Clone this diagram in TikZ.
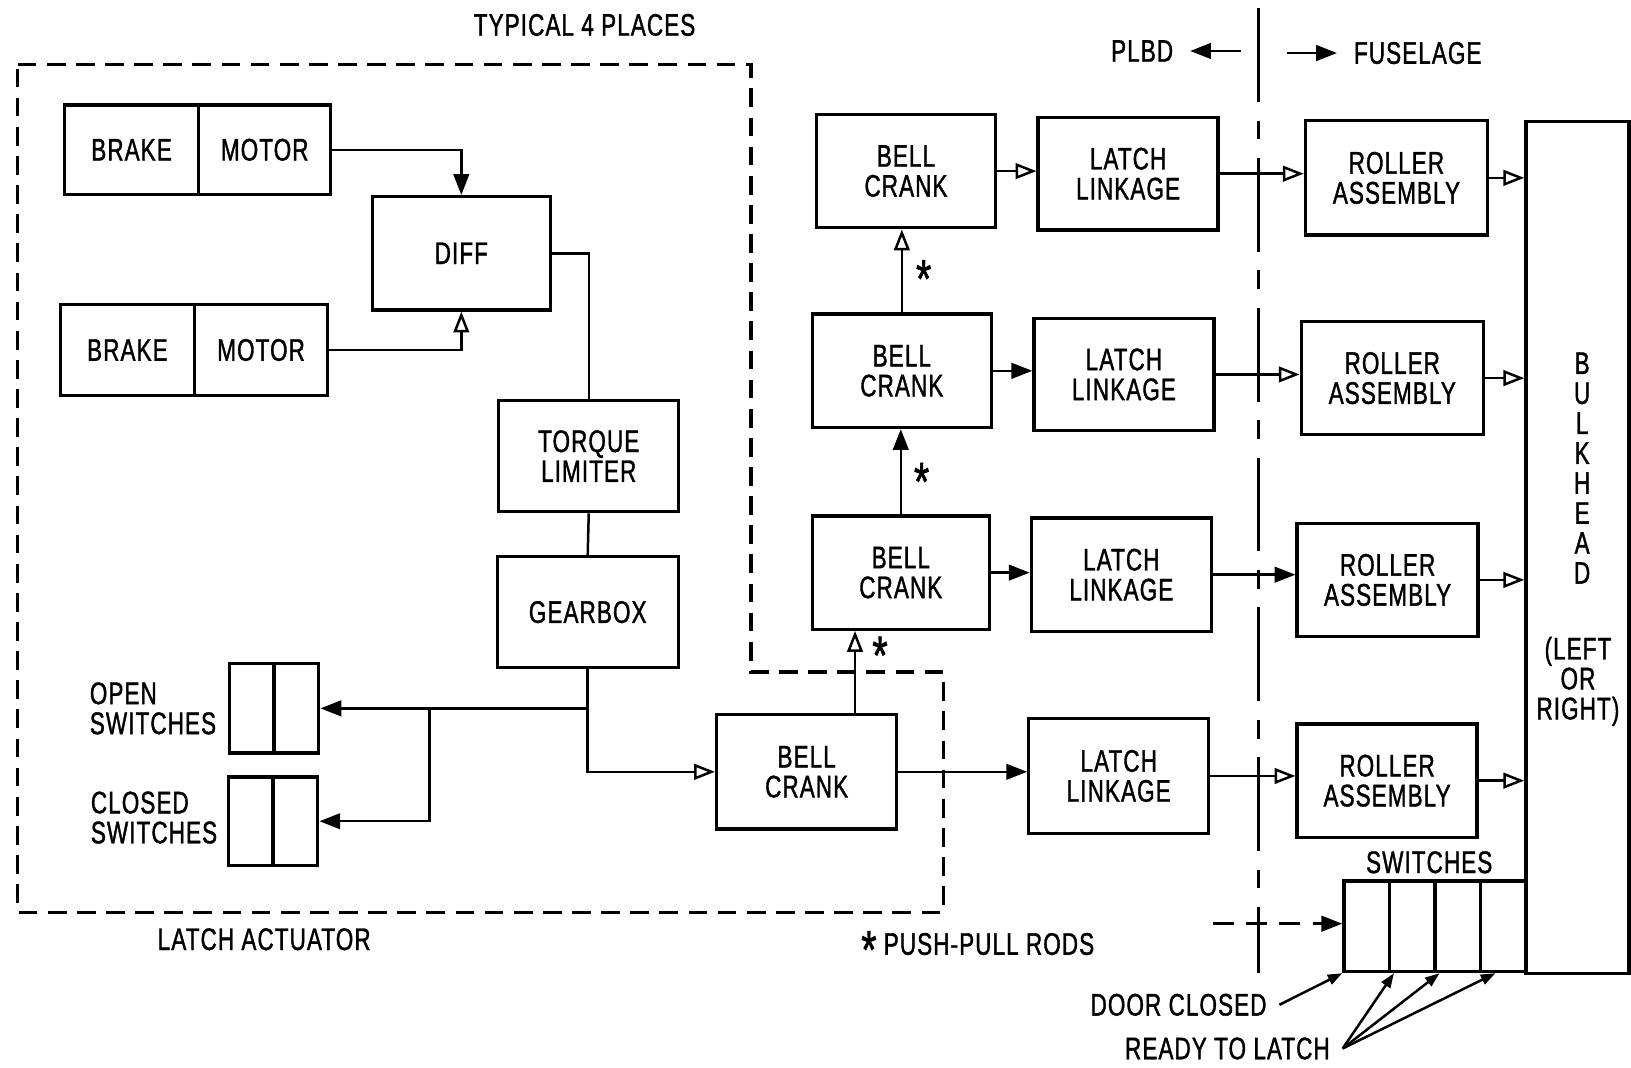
\documentclass[tikz,border=0pt]{standalone}
\usepackage{fontspec}
\setmainfont[FakeStretch=0.72,LetterSpace=3.5,FakeBold=1.2]{Liberation Sans}
\usetikzlibrary{arrows.meta}
\newcommand\lbl{\fontsize{15}{14.4}\selectfont}
\newcommand\astr{\raisebox{-6.5pt}{\fontsize{26}{26}\selectfont *}}
\begin{document}
\begin{tikzpicture}[x=0.5pt,y=-0.5pt,
  box/.style={draw,line width=1.6pt,inner sep=0pt,align=center,font=\lbl},
  ln/.style={line width=1.2pt},
  fa/.style={ln,-{Triangle[length=10pt,width=7.5pt]}},
  oa/.style={ln,-{Triangle[open,length=10pt,width=7.5pt,line width=1.2pt]}},
  sa/.style={ln,-{Triangle[length=7pt,width=5pt]}},
  txt/.style={font=\lbl,inner sep=0pt,align=center}]
\useasboundingbox (0,0) rectangle (1568,1026);

% latch actuator outline
\draw[line width=1.6pt,dash pattern=on 9pt off 5pt] (17,62) -- (722,62) -- (722,646) -- (907,646) -- (907,877) -- (17,877) -- cycle;
\node[txt] (typ) at (562,24) {TYPICAL 4 PLACES};
\node[txt] (lact) at (254,903) {LATCH ACTUATOR};

% brake / motor
\node[box,minimum width=64.5pt,minimum height=43pt] (br1) at (126.5,144) {BRAKE};
\node[box,minimum width=63.5pt,minimum height=43pt] (mo1) at (254.5,144) {MOTOR};
\node[box,minimum width=64.5pt,minimum height=43.5pt] (br2) at (122.5,336.5) {BRAKE};
\node[box,minimum width=64pt,minimum height=43.5pt] (mo2) at (251,336.5) {MOTOR};
\node[box,minimum width=85.5pt,minimum height=54.5pt] (diff) at (443.5,243.5) {DIFF};
\node[box,minimum width=86.5pt,minimum height=53.5pt] (torque) at (566,438.5) {TORQUE\\LIMITER};
\node[box,minimum width=87pt,minimum height=53.5pt] (gear) at (565,588.5) {GEARBOX};

% open / closed switches
\node[box,minimum width=21.5pt,minimum height=43pt] (os1) at (242,681) {};
\node[box,minimum width=21.5pt,minimum height=43pt] (os2) at (285,681) {};
\node[box,minimum width=21.5pt,minimum height=42.5pt] (cs1) at (241,789.5) {};
\node[box,minimum width=21.5pt,minimum height=42.5pt] (cs2) at (284,789.5) {};
\node[txt,anchor=west,align=left] (ostxt) at (86,681) {OPEN\\SWITCHES};
\node[txt,anchor=west,align=left] (cstxt) at (87,786) {CLOSED\\SWITCHES};

\draw[fa] (mo1.east) -| (diff.north);
\draw[oa] (mo2.east) -| (diff.south);
\draw[ln] (diff.east) -| (torque.north);
\draw[ln] (torque.south) -- (gear.north);
\coordinate (j1) at (gear.south |- os2.east);
\coordinate (j2) at (413,681);
\draw[fa] (j1) -- (os2.east);
\draw[fa] (j2) |- (cs2.east);

% bell cranks
\node[box,minimum width=86.5pt,minimum height=55pt] (bc4) at (775.5,742) {BELL\\CRANK};
\node[box,minimum width=85pt,minimum height=54.5pt] (bc3) at (866,550.5) {BELL\\CRANK};
\node[box,minimum width=86pt,minimum height=54.5pt] (bc2) at (867,356.5) {BELL\\CRANK};
\node[box,minimum width=86pt,minimum height=54.5pt] (bc1) at (871,164.5) {BELL\\CRANK};
\draw[oa] (gear.south) |- (bc4.west);

\draw[oa] ([xshift=23.25pt]bc4.north) -- ([xshift=23.25pt]bc4.north |- bc3.south);
\draw[fa] (bc3.north) -- (bc3.north |- bc2.south);
\draw[oa] (bc2.north) -- (bc2.north |- bc1.south);
\node[txt] (as1) at (846,630) {\astr};
\node[txt] (as2) at (886,463) {\astr};
\node[txt] (as3) at (888,268) {\astr};

% latch linkages
\node[box,minimum width=86.5pt,minimum height=54pt] (ll1) at (1084.5,167) {LATCH\\LINKAGE};
\node[box,minimum width=86.5pt,minimum height=54pt] (ll2) at (1080.5,360) {LATCH\\LINKAGE};
\node[box,minimum width=86.5pt,minimum height=54.5pt] (ll3) at (1078,552.5) {LATCH\\LINKAGE};
\node[box,minimum width=86.5pt,minimum height=55pt] (ll4) at (1075.5,746) {LATCH\\LINKAGE};

% roller assemblies
\node[box,minimum width=87.5pt,minimum height=55pt] (ra1) at (1342.5,171) {ROLLER\\ASSEMBLY};
\node[box,minimum width=87.5pt,minimum height=54.5pt] (ra2) at (1338.5,363.5) {ROLLER\\ASSEMBLY};
\node[box,minimum width=87pt,minimum height=54.5pt] (ra3) at (1334,557.5) {ROLLER\\ASSEMBLY};
\node[box,minimum width=86.5pt,minimum height=54.5pt] (ra4) at (1333.5,750.5) {ROLLER\\ASSEMBLY};

% bulkhead
\node[draw,line width=1.6pt,minimum width=49.5pt,minimum height=409.5pt,inner sep=0pt] (bulk) at (1516.5,526.5) {};
\node[txt] (bulktxt) at (1521,450) {B\\U\\L\\K\\H\\E\\A\\D};
\node[txt] (lr) at (1517,655) {(LEFT\\OR\\RIGHT)};

\draw[oa] (bc1.east) -- (bc1.east -| ll1.west);
\draw[fa] (bc2.east) -- (bc2.east -| ll2.west);
\draw[fa] (bc3.east) -- (bc3.east -| ll3.west);
\draw[fa] (bc4.east) -- (bc4.east -| ll4.west);
\draw[oa] (ll1.east) -- (ll1.east -| ra1.west);
\draw[oa] (ll2.east) -- (ll2.east -| ra2.west);
\draw[fa] (ll3.east) -- (ll3.east -| ra3.west);
\draw[oa] (ll4.east) -- (ll4.east -| ra4.west);
\draw[oa] (ra1.east) -- (ra1.east -| bulk.west);
\draw[oa] (ra2.east) -- (ra2.east -| bulk.west);
\draw[oa] (ra3.east) -- (ra3.east -| bulk.west);
\draw[oa] (ra4.east) -- (ra4.east -| bulk.west);

% switches at bulkhead
\node[box,minimum width=21.875pt,minimum height=43.5pt] (sw1) at (1313.9,890.5) {};
\node[box,minimum width=21.875pt,minimum height=43.5pt] (sw2) at (1357.6,890.5) {};
\node[box,minimum width=21.875pt,minimum height=43.5pt] (sw3) at (1401.4,890.5) {};
\node[box,minimum width=21.875pt,minimum height=43.5pt] (sw4) at (1445.1,890.5) {};
\node[txt] (swtxt) at (1374,829) {SWITCHES};
\coordinate (dstart) at (1166,888);
\draw[fa,dash pattern=on 10pt off 6pt] (dstart) -- (dstart -| sw1.west);

% PLBD / fuselage divider
\coordinate (dtop) at (1210,8);
\coordinate (dbot) at (1210,935);
\draw[line width=1.7pt,dash pattern=on 45pt off 9pt on 9pt off 9pt] (dtop) -- (dbot);
\node[txt] (plbd) at (1098,49) {PLBD};
\node[txt] (fus) at (1363,51) {FUSELAGE};
\coordinate (pa) at (1193,49);
\coordinate (fa1) at (1237,51);
\draw[fa] (pa) -- ([xshift=8pt]plbd.east);
\draw[fa] (fa1) -- ([xshift=-8pt]fus.west);

\node[txt] (ppr) at (940,913) {\astr\ PUSH-PULL RODS};
\node[txt] (dc) at (1133,966) {DOOR CLOSED};
\node[txt] (rl) at (1180,1008) {READY TO LATCH};
\draw[sa] ([xshift=6pt]dc.east) -- (sw1.south west);
\draw[sa] ([xshift=6pt]rl.east) -- ([xshift=3pt]sw2.south west);
\draw[sa] ([xshift=6pt]rl.east) -- ([xshift=3pt]sw3.south west);
\draw[sa] ([xshift=6pt]rl.east) -- ([xshift=8pt]sw4.south west);
\end{tikzpicture}
\end{document}
